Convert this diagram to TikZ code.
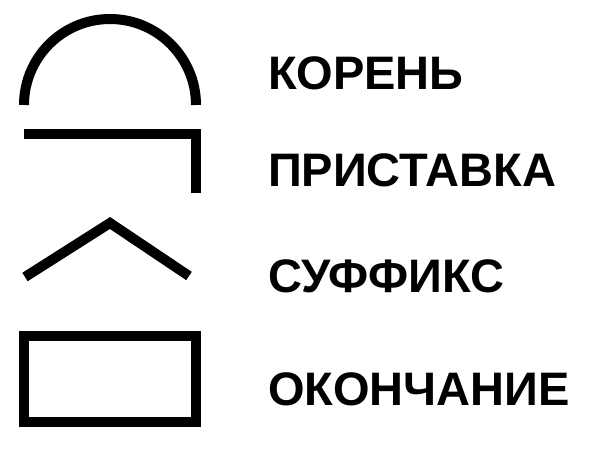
\documentclass[tikz,border=0pt]{standalone}
\usepackage{fontspec}
\setmainfont{Liberation Sans}
\usepackage{tikz}

\begin{document}
\begin{tikzpicture}[x=1pt, y=1pt, line width=10pt,
  word/.style={anchor=base west, inner sep=0pt, font=\fontsize{47}{50}\selectfont\bfseries}]
\useasboundingbox (0,0) rectangle (600,450);

\node (root) [word] at (263,360) {КОРЕНЬ};
\node (prefix) [word] at (263,263) {ПРИСТАВКА};
\node (suffix) [word] at (263,157) {СУФФИКС};
\node (ending) [word] at (263,44) {ОКОНЧАНИЕ};

\draw (24,345) arc (180:0:86);
\draw[line cap=butt, line join=miter] (24,315.5) -- (196,315.5) -- (196,257);
\draw (25,173) -- (110,227) -- (189,174);
\draw (24,113.5) rectangle (196,27.5);

\end{tikzpicture}
\end{document}
